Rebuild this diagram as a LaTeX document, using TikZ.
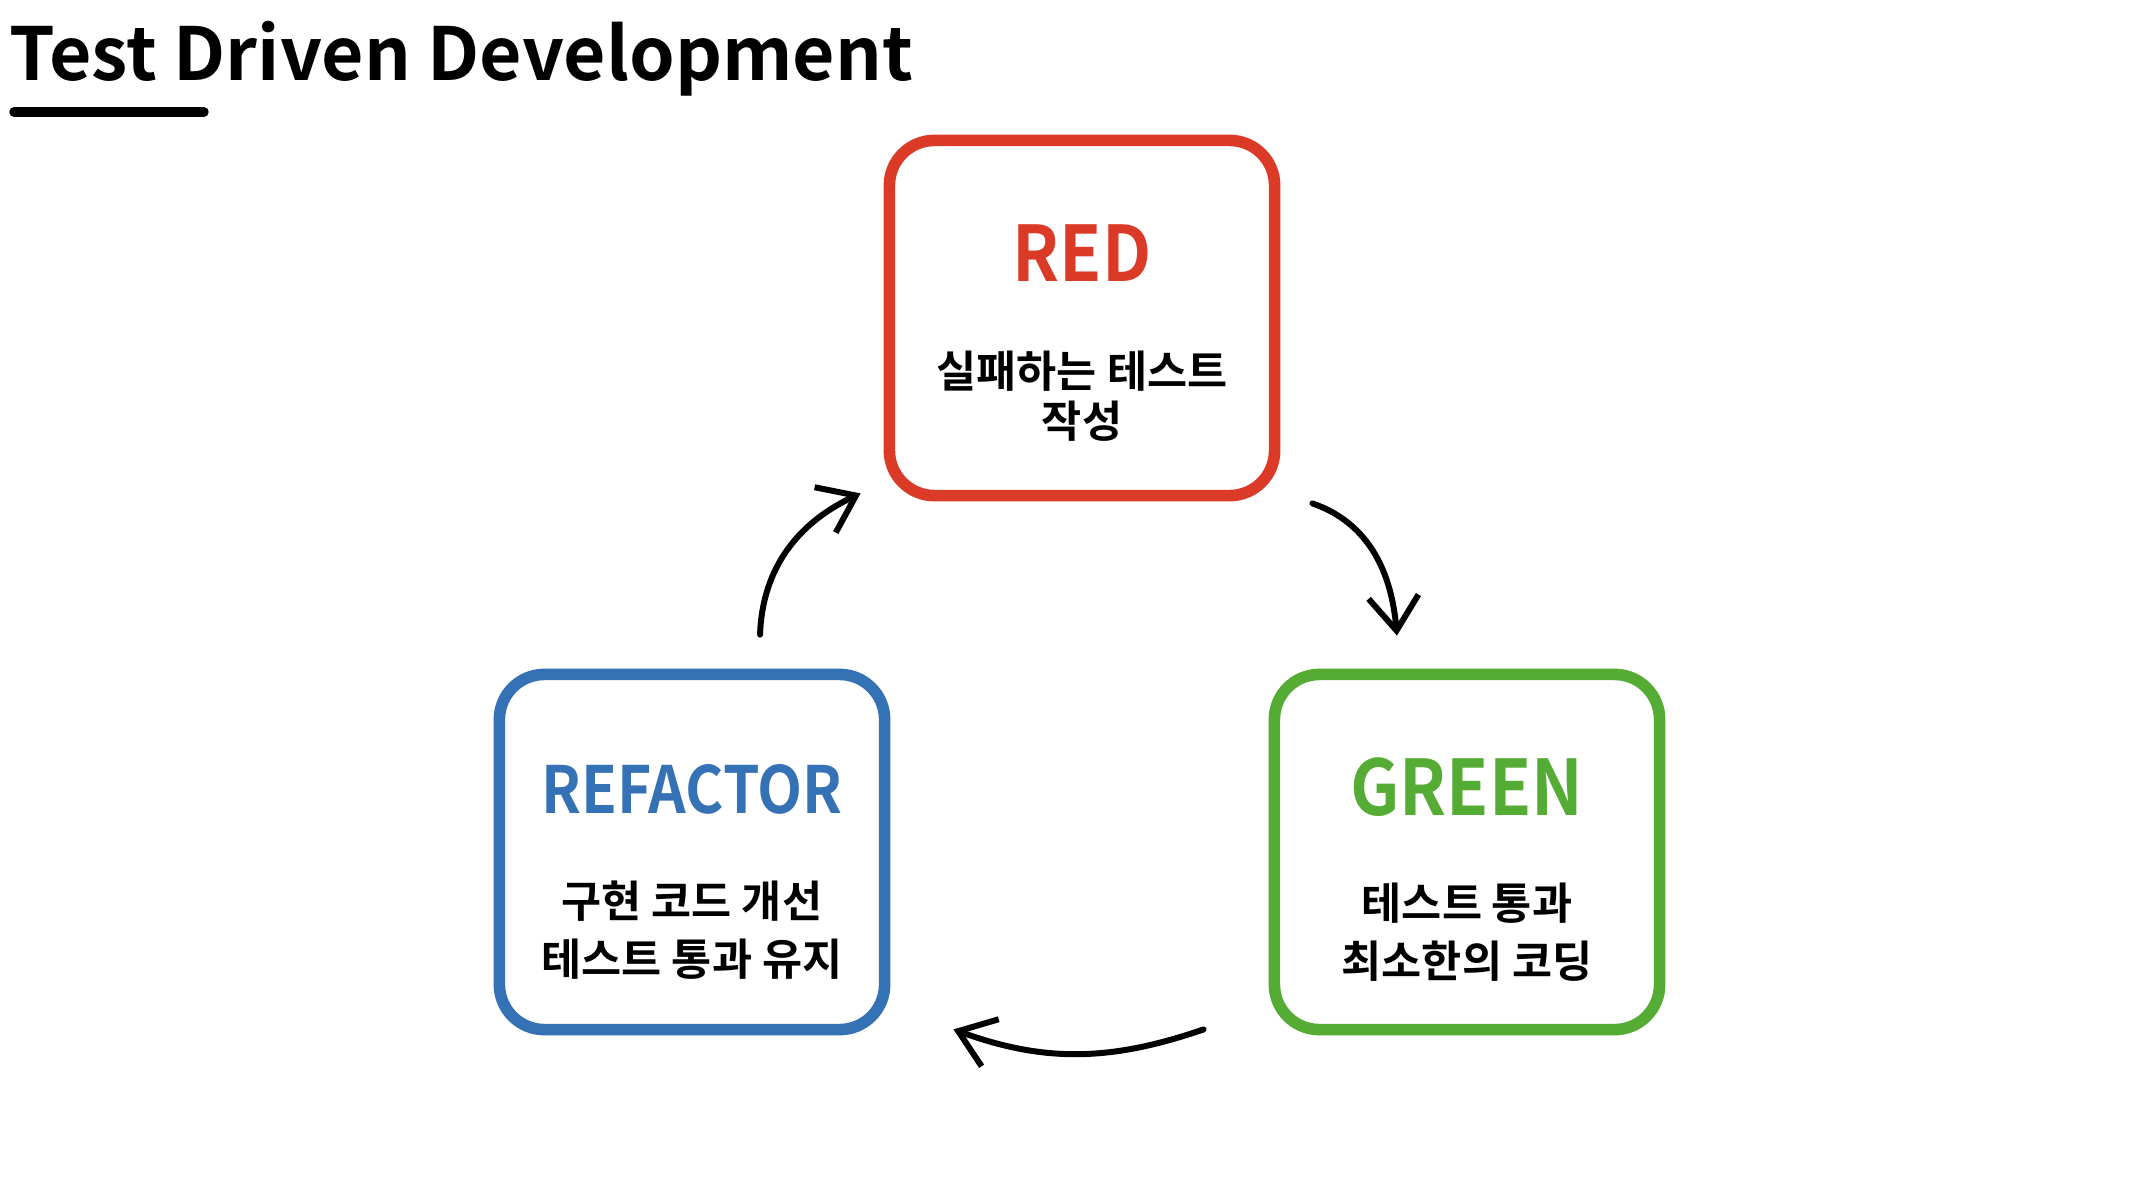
\documentclass[tikz,border=0pt]{standalone}
\usepackage{fontspec}
\usetikzlibrary{arrows.meta,positioning}
\newfontfamily\krfont{Noto Sans CJK KR Bold}
\newfontfamily\headfont{Noto Sans CJK KR Bold}[FakeStretch=0.9]
\definecolor{tddred}{RGB}{219,58,38}
\definecolor{tddblue}{RGB}{53,114,181}
\definecolor{tddgreen}{RGB}{85,172,52}
\begin{document}
\begin{tikzpicture}[x=0.01cm,y=0.01cm,stage/.style={draw,rounded corners=0.45cm,line width=3.3pt,minimum width=3.85cm,minimum height=3.55cm},head/.style={font=\headfont\fontsize{21.8}{26}\selectfont},desc/.style={align=center,font=\krfont\fontsize{12.4}{16.5}\selectfont},arr/.style={-{Straight Barb[length=3.4mm,width=5mm]},line width=1.7pt,line cap=round}]
\fill[white] (0,0) rectangle (2135,-1184);
\node[anchor=base west,inner sep=0pt,font=\krfont\fontsize{20.8}{25}\selectfont] (title) at (9,-80){Test Driven Development};
\draw[line width=2.7pt,line cap=round] (14,-112) -- (204,-112);
\node[stage,draw=tddred] (red) at (1082,-318){};
\node[stage,draw=tddblue] (refactor) at (692,-852){};
\node[stage,draw=tddgreen] (green) at (1467,-852){};
\node[head,text=tddred] (redhead) at (1082,-253){RED};
\node[head,text=tddblue,font=\headfont\fontsize{18.5}{22}\selectfont] (refactorhead) at (692,-789){REFACTOR};
\node[head,text=tddgreen] (greenhead) at (1467,-787){GREEN};
\node[desc,font=\krfont\fontsize{12.4}{14.2}\selectfont] (redtext) at (1082,-396){실패하는 테스트\\작성};
\node[desc] (refactortext) at (692,-930){구현 코드 개선\\테스트 통과 유지};
\node[desc] (greentext) at (1467,-932){테스트 통과\\최소한의 코딩};
\draw[arr] ([xshift=0.68cm,yshift=0.34cm]refactor.north) to[out=88,in=205] ([xshift=-0.23cm,yshift=0.08cm]red.south west);
\draw[arr] ([xshift=0.32cm,yshift=-0.02cm]red.south east) to[out=-19,in=95] ([xshift=-0.7cm,yshift=0.33cm]green.north);
\draw[arr] ([xshift=-0.65cm,yshift=0.06cm]green.south west) to[out=199,in=-20] ([xshift=0.63cm,yshift=0.06cm]refactor.south east);
\end{tikzpicture}
\end{document}
